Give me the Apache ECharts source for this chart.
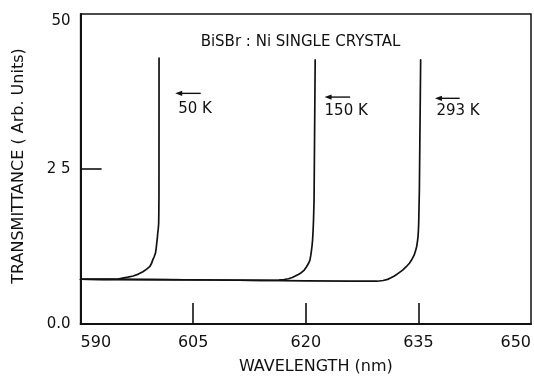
<!DOCTYPE html>
<html>
<head>
<meta charset="utf-8">
<script src="https://cdn.jsdelivr.net/npm/echarts@6/dist/echarts.min.js"></script>
<style>
  html, body { margin: 0; padding: 0; background: #fff; }
  #chart { width: 534px; height: 380px; }
</style>
</head>
<body>
<div id="chart"></div>
<script>
// Axis ticks and labels
const xTicks = [590, 605, 620, 635, 650];
const yTicks = [0, 25, 50];
const yTickLabels = ['0.0', '2 5', '50'];

// Absorption-edge transmittance curves: wavelength (nm) and transmittance (arb. units).
// Below each edge the three curves share the same flat floor.
const wl50K = [590, 593, 595.0, 595.6, 596.3, 597.0, 597.7, 598.3, 598.8, 599.2, 599.45, 599.6, 599.8,
               599.97, 600.07, 600.14, 600.22, 600.27, 600.35, 600.4, 600.42, 600.44, 600.45];
const tr50K = [7.22, 7.2, 7.25, 7.4, 7.55, 7.74, 8.05, 8.44, 8.85, 9.24, 9.75, 10.3, 10.85,
               11.4, 12.2, 13.0, 13.8, 14.6, 15.4, 16.2, 17.8, 21.0, 42.9];

const wl150K = [590, 593, 600, 608, 614, 616.4, 617.1, 617.7, 618.2, 618.6, 619.0, 619.4, 619.8, 620.1,
                620.35, 620.55, 620.67, 620.76, 620.84, 620.9, 620.97, 621.03, 621.1, 621.25];
const tr150K = [7.22, 7.2, 7.15, 7.1, 7.05, 7.08, 7.18, 7.3, 7.5, 7.74, 7.98, 8.27, 8.7, 9.24,
                9.75, 10.3, 11.1, 11.9, 12.7, 13.5, 15.0, 16.8, 20.0, 42.6];

const wl293K = [590, 593, 600, 608, 614, 620, 626, 629.5, 630.3, 630.9, 631.35, 631.8, 632.35, 632.9,
                633.35, 633.8, 634.15, 634.43, 634.62, 634.77, 634.87, 634.95, 635.0, 635.04, 635.13, 635.3];
const tr293K = [7.22, 7.2, 7.15, 7.1, 7.05, 6.95, 6.9, 6.9, 7.02, 7.2, 7.45, 7.74, 8.2, 8.7,
                9.2, 9.8, 10.45, 11.1, 11.8, 12.5, 13.3, 14.1, 15.1, 16.2, 21.6, 42.6];

const seriesNames = ['50 K', '150 K', '293 K'];
const titleText = 'BiSBr : Ni SINGLE CRYSTAL';

// Where each temperature label and its arrow sit, in data units
const labelAnchors = [[603.0, 34.6], [622.5, 34.3], [637.4, 34.4]];
const arrowSpans = [[602.6, 606.0, 37.2], [622.5, 625.9, 36.6], [637.2, 640.5, 36.4]];
const titleAnchor = [619.3, 45.4];

const FONT = '"DejaVu Sans", "Liberation Sans", sans-serif';
const INK = '#111';

const zip = (xs, ys) => xs.map((x, i) => [x, ys[i]]);

const chart = echarts.init(document.getElementById('chart'), null, { renderer: 'canvas' });

const lineSeries = (name, data) => ({
  name,
  type: 'line',
  data,
  showSymbol: false,
  smooth: false,
  lineStyle: { color: INK, width: 1.7, join: 'round', cap: 'round' },
  animation: false
});

chart.setOption({
  backgroundColor: '#fff',
  animation: false,
  grid: {
    left: 80.6, right: 0.5, top: 14, bottom: 56,
    show: true, borderColor: INK, borderWidth: 1.5, backgroundColor: 'transparent'
  },
  xAxis: {
    type: 'value',
    min: xTicks[0],
    max: xTicks[xTicks.length - 1],
    axisLine: { show: true, lineStyle: { color: INK, width: 2 } },
    axisTick: {
      show: true, inside: true, length: 21,
      customValues: xTicks.slice(1, -1),
      lineStyle: { color: INK, width: 1.6 }
    },
    axisLabel: {
      customValues: xTicks,
      margin: 11,
      color: INK, fontSize: 16, fontFamily: FONT,
      alignMinLabel: 'left', alignMaxLabel: 'right'
    },
    splitLine: { show: false },
    name: 'WAVELENGTH (nm)',
    nameLocation: 'middle',
    nameGap: 35,
    nameTextStyle: { color: INK, fontSize: 16, fontFamily: FONT, padding: [0, 0, 0, 20] }
  },
  yAxis: {
    type: 'value',
    min: 0, max: 50, interval: 25,
    axisLine: { show: true, lineStyle: { color: INK, width: 2 } },
    axisTick: {
      show: true, inside: true, length: 21,
      customValues: [yTicks[1]],
      lineStyle: { color: INK, width: 1.6 }
    },
    axisLabel: {
      customValues: yTicks,
      margin: 10,
      color: INK, fontSize: 15, fontFamily: FONT,
      verticalAlignMaxLabel: 'top',
      formatter: v => yTickLabels[yTicks.indexOf(v)]
    },
    splitLine: { show: false },
    name: 'TRANSMITTANCE ( Arb. Units)',
    nameLocation: 'middle',
    nameGap: 54,
    nameTextStyle: { color: INK, fontSize: 16, fontFamily: FONT, padding: [0, 0, 0, 6] }
  },
  series: [
    lineSeries(seriesNames[0], zip(wl50K, tr50K)),
    lineSeries(seriesNames[1], zip(wl150K, tr150K)),
    lineSeries(seriesNames[2], zip(wl293K, tr293K))
  ]
});

// Annotations placed through the chart's own coordinate conversion
const px = p => chart.convertToPixel({ gridIndex: 0 }, p);
const graphics = [];

const tp = px(titleAnchor);
graphics.push({
  type: 'text',
  style: { text: titleText, x: tp[0], y: tp[1], fill: INK, fontSize: 15, fontFamily: FONT,
           align: 'center', verticalAlign: 'middle' }
});

seriesNames.forEach((name, i) => {
  const lp = px(labelAnchors[i]);
  graphics.push({
    type: 'text',
    style: { text: name, x: lp[0], y: lp[1], fill: INK, fontSize: 15, fontFamily: FONT,
             align: 'left', verticalAlign: 'middle' }
  });
  const [a0, a1, ay] = arrowSpans[i];
  const p0 = px([a0, ay]);
  const p1 = px([a1, ay]);
  graphics.push({
    type: 'line',
    shape: { x1: p0[0] + 4, y1: p0[1], x2: p1[0], y2: p1[1] },
    style: { stroke: INK, lineWidth: 1.4 }
  });
  graphics.push({
    type: 'polygon',
    shape: { points: [[p0[0], p0[1]], [p0[0] + 7, p0[1] - 2.6], [p0[0] + 7, p0[1] + 2.6]] },
    style: { fill: INK }
  });
});

chart.setOption({ graphic: graphics });
</script>
</body>
</html>
